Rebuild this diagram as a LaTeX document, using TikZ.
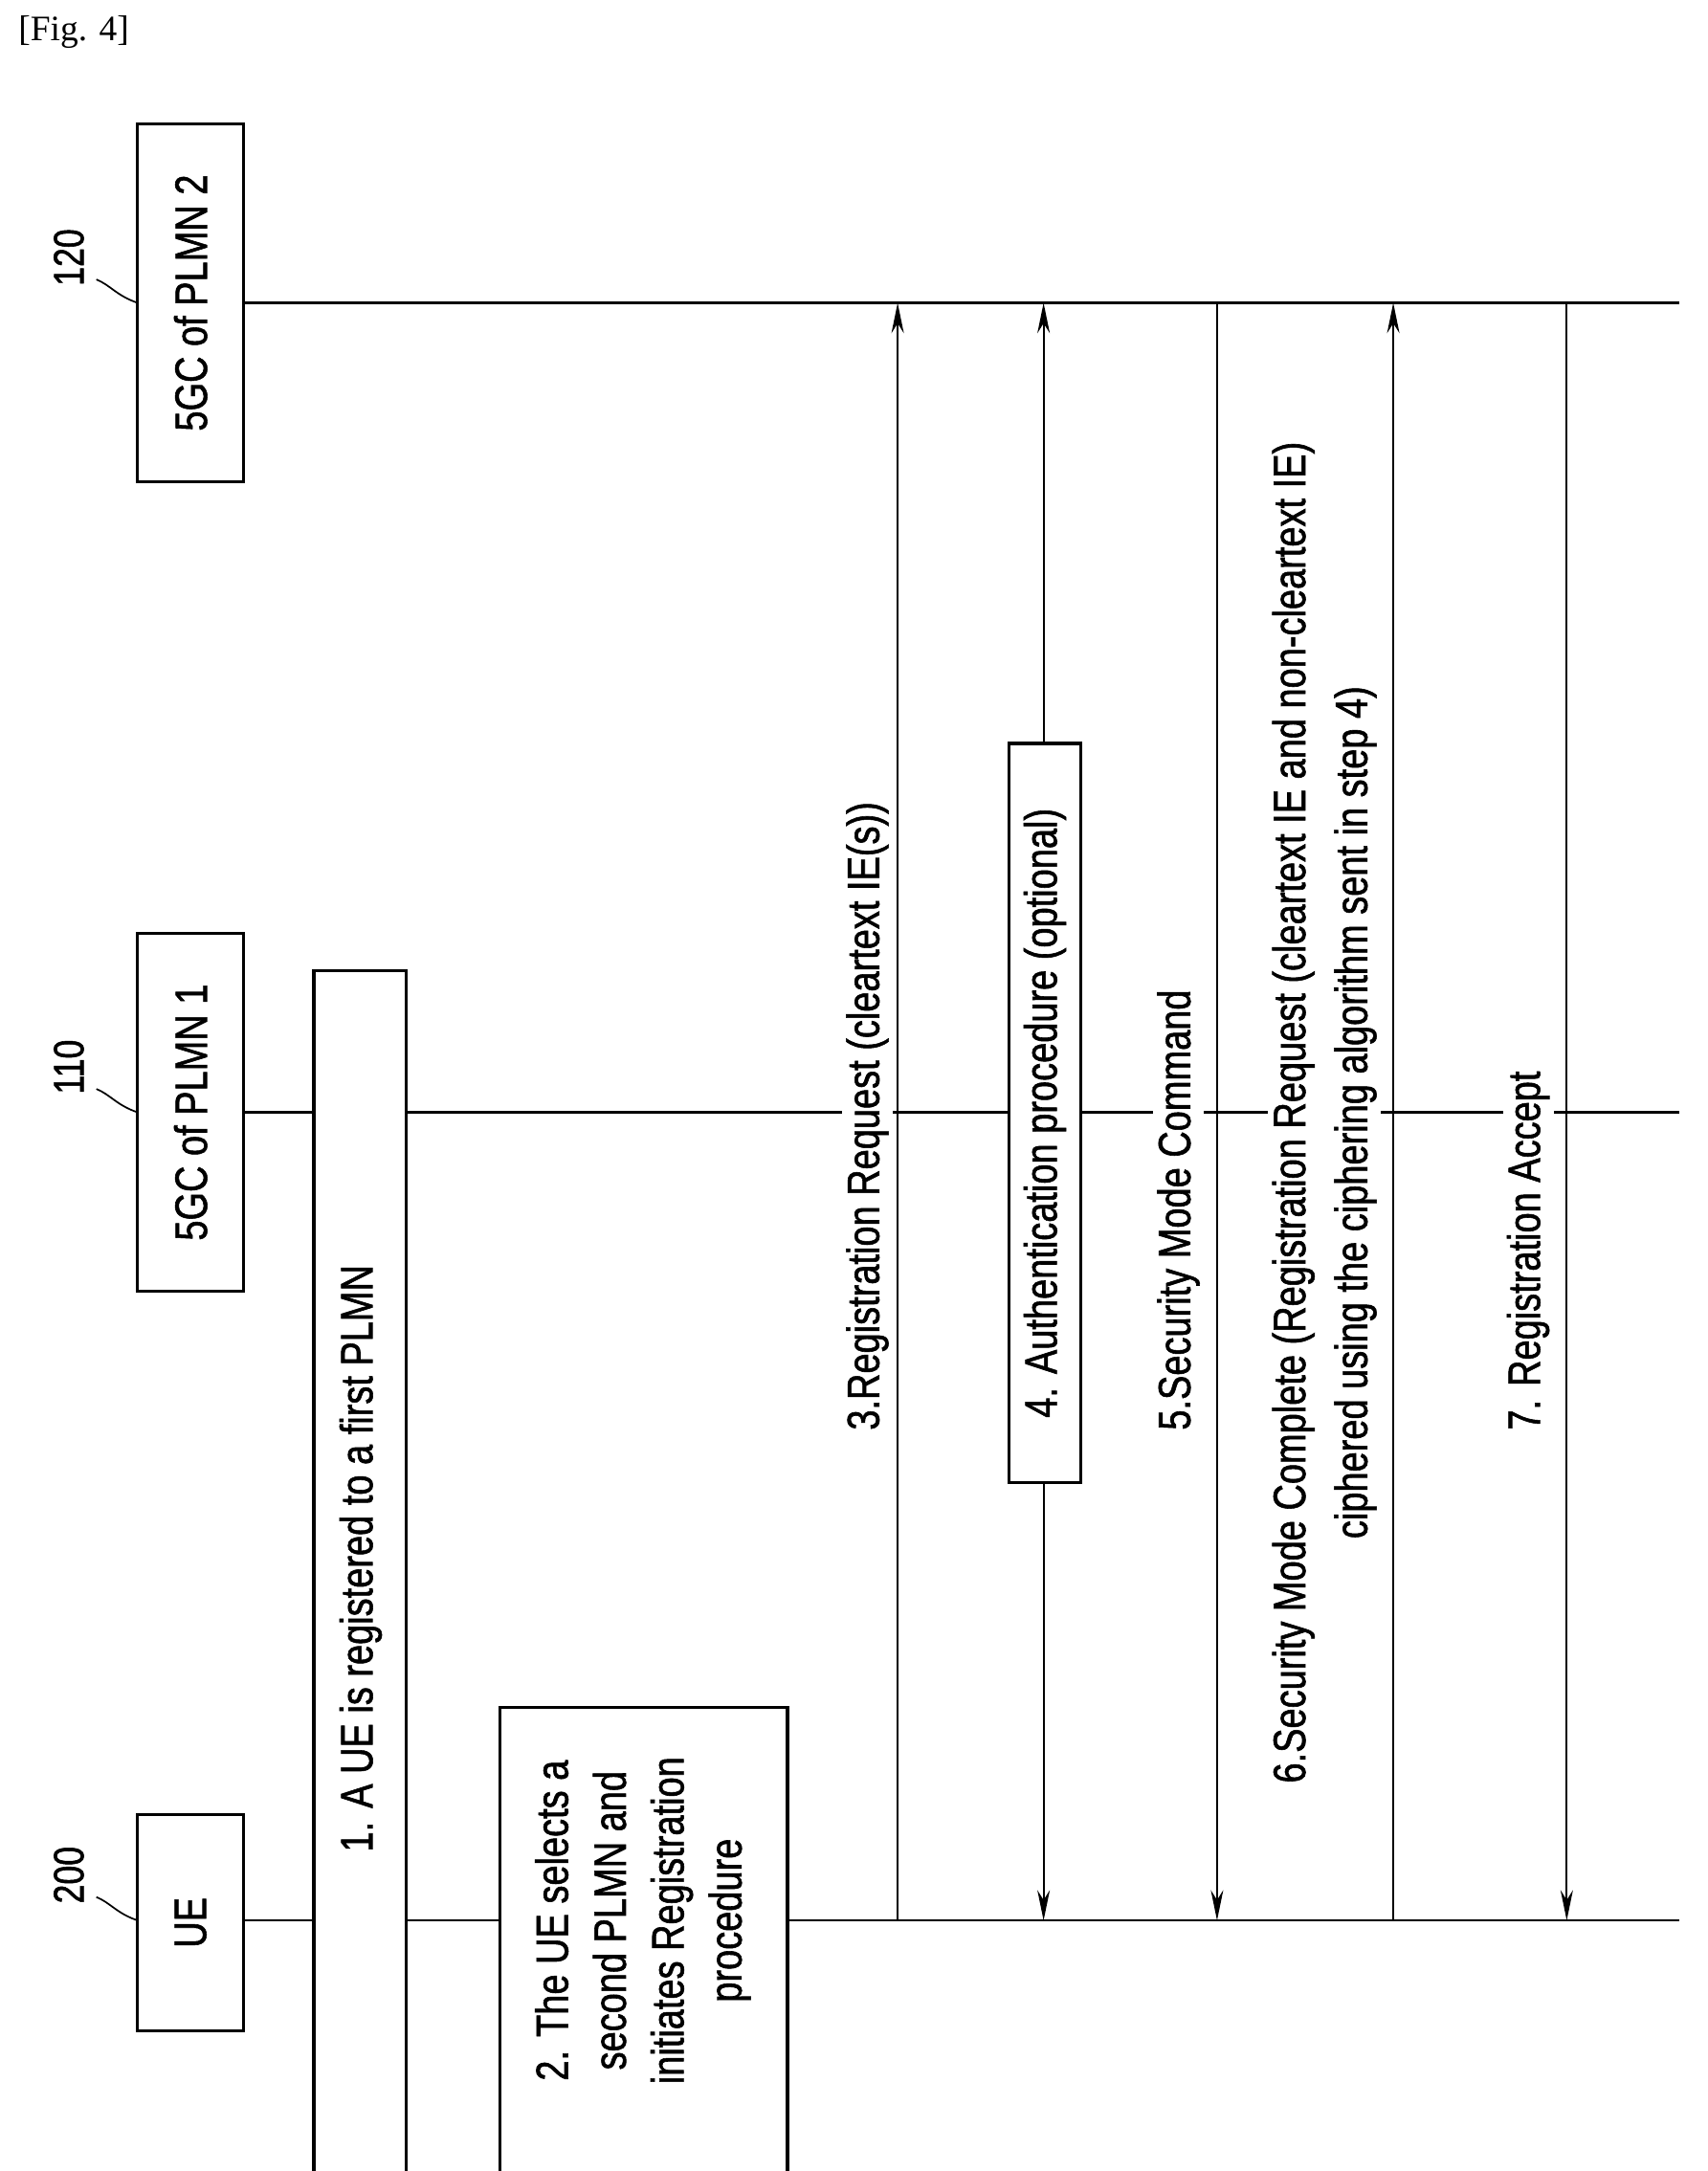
\documentclass[tikz,border=0pt]{standalone}
\usepackage{fontspec}
\setmainfont{Liberation Serif}
\newfontfamily\condfont[FakeStretch=0.8,FakeBold=1.2]{Liberation Sans}
\usetikzlibrary{arrows.meta}
\begin{document}
\begin{tikzpicture}[x=1pt,y=-1pt,
  lane/.style={line width=1.5pt},
  ent/.style={draw,line width=2.2pt,fill=white,rotate=90,inner sep=0pt,font=\condfont\fontsize{33}{36}\selectfont},
  msg/.style={line width=1.5pt},
  lbl/.style={rotate=90,fill=white,inner sep=3pt,font=\condfont\fontsize{33}{38}\selectfont,align=center},
  tip/.style={-{Stealth[length=22pt,width=9pt]}},
  num/.style={rotate=90,font=\condfont\fontsize{31}{34}\selectfont}]
\useasboundingbox (0,0) rectangle (1240,1577);
\node[anchor=north west,font=\fontsize{26}{30}\selectfont] (fig) at (10,8) {[Fig. 4]};
% lifelines
\coordinate (ueL) at (175,1395); \coordinate (ueR) at (1220,1395);
\coordinate (p1L) at (175,808); \coordinate (p1R) at (1220,808);
\coordinate (p2L) at (175,220); \coordinate (p2R) at (1220,220);
\draw[lane] (ueL) -- (ueR);
\draw[lane] (p1L) -- (p1R);
\draw[lane] (p2L) -- (p2R);
% entity boxes
\node[ent,minimum width=157pt,minimum height=77pt] (ue) at (138.5,1396.5) {UE};
\node[ent,minimum width=260pt,minimum height=77pt] (p1) at (138.5,808) {5GC of PLMN 1};
\node[ent,minimum width=260pt,minimum height=77pt] (p2) at (138.5,220) {5GC of PLMN 2};
% numbers
\node[num] (n200) at (50,1362) {200};
\node[num] (n110) at (50,775) {110};
\node[num] (n120) at (50,187) {120};
\draw[line width=1.2pt] (70,1378) .. controls (80,1382) and (85,1390) .. (100,1395);
\draw[line width=1.2pt] (70,791) .. controls (80,795) and (85,803) .. (100,808);
\draw[line width=1.2pt] (70,203) .. controls (80,207) and (85,215) .. (100,220);
% step boxes
\draw[line width=2.2pt,fill=white] (228,1590) -- (228,705) -- (295,705) -- (295,1590);
\node[lbl,fill=none] (s1) at (262,1132) {1. A UE is registered to a first PLMN};
\draw[line width=2.2pt,fill=white] (363,1590) -- (363,1240) -- (572,1240) -- (572,1590);
\node[lbl,fill=none,font=\condfont\fontsize{33}{42}\selectfont] (s2) at (467,1395) {2. The UE selects a\\second PLMN and\\initiates Registration\\procedure};
% messages
\coordinate (m3a) at (652,1395); \coordinate (m3b) at (652,220);
\draw[msg,tip] (m3a) -- (m3b);
\node[lbl,anchor=west] (l3) at (630,1042) {3.Registration Request (cleartext IE(s))};
\coordinate (m4a) at (758,1395); \coordinate (m4b) at (758,220);
\draw[msg,tip] (758,808) -- (m4a);
\draw[msg,tip] (758,808) -- (m4b);
\node[ent,minimum width=537pt,minimum height=52pt] (s4) at (759,808.5) {4. Authentication procedure (optional)};
\coordinate (m5a) at (884,220); \coordinate (m5b) at (884,1395);
\draw[msg,tip] (m5a) -- (m5b);
\node[lbl,anchor=west] (l5) at (856,1042) {5.Security Mode Command};
\coordinate (m6a) at (1012,1395); \coordinate (m6b) at (1012,220);
\draw[msg,tip] (m6a) -- (m6b);
\node[lbl,font=\condfont\fontsize{33}{45}\selectfont] (l6) at (962,808) {6.Security Mode Complete (Registration Request (cleartext IE and non-cleartext IE)\\ciphered using the ciphering algorithm sent in step 4)};
\coordinate (m7a) at (1138,220); \coordinate (m7b) at (1138,1395);
\draw[msg,tip] (m7a) -- (m7b);
\node[lbl,anchor=west] (l7) at (1110,1042) {7. Registration Accept};
\end{tikzpicture}
\end{document}
